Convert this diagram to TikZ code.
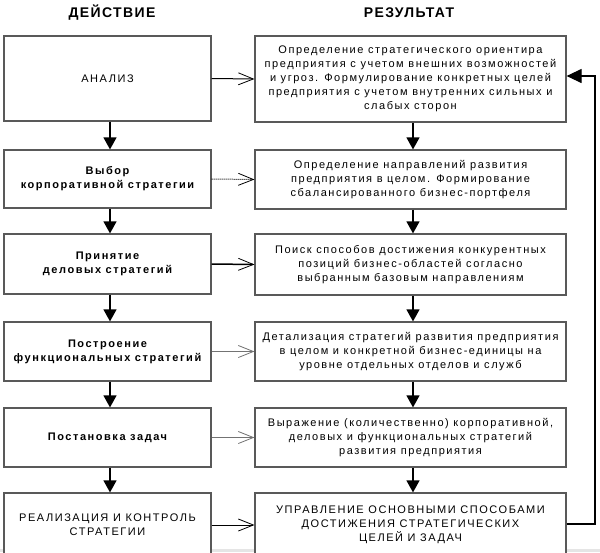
\documentclass[tikz,border=0pt]{standalone}
\usepackage{fontspec}
\setmainfont{Liberation Sans}[LetterSpace=14]
\newfontfamily\hdrfont{Liberation Sans}[LetterSpace=10]
\usetikzlibrary{arrows.meta,calc}
\definecolor{boxc}{gray}{0.35}
\definecolor{lgr}{gray}{0.45}
\begin{document}
\begin{tikzpicture}[x=1pt,y=-1pt,
  box/.style={draw=boxc, line width=1.2pt, align=center, inner sep=0pt, fill=white,
    font=\fontsize{11}{14}\selectfont},
  lbox/.style={box, minimum width=207pt},
  rbox/.style={box, minimum width=311pt},
  bld/.style={font=\fontsize{11}{14}\bfseries\selectfont},
  hdr/.style={font=\hdrfont\fontsize{14}{16}\bfseries\selectfont},
  darr/.style={line width=1.2pt, -{Triangle[length=12pt,width=13pt]}},
  harr/.style={line width=1pt, -{Straight Barb[length=15pt,width=12pt,line width=0.8pt]}},
  farr/.style={line width=1.2pt, -{Triangle[length=15pt,width=14pt]}}]
\useasboundingbox (0,0) rectangle (600,552);
\clip (0,0) rectangle (600,552);
\fill[gray!20] (0,549) rectangle (600,552);

\node[hdr] (h1) at (112,13) {ДЕЙСТВИЕ};
\node[hdr] (h2) at (409,13) {РЕЗУЛЬТАТ};

% left column
\node[lbox, minimum height=85pt] (l1) at (107.5,78.5) {АНАЛИЗ};
\node[lbox, minimum height=58pt, bld] (l2) at (107.5,179) {Выбор\\корпоративной стратегии};
\node[lbox, minimum height=60pt, bld] (l3) at (107.5,264) {Принятие\\деловых стратегий};
\node[lbox, minimum height=59pt, bld] (l4) at (107.5,351.5) {Построение\\функциональных стратегий};
\node[lbox, minimum height=59pt, bld] (l5) at (107.5,437.5) {Постановка задач};
\node[lbox, minimum height=64pt] (l6) at (107.5,525) {РЕАЛИЗАЦИЯ И КОНТРОЛЬ\\СТРАТЕГИИ};

% right column
\node[rbox, minimum height=86pt] (r1) at (410.5,79) {Определение стратегического ориентира\\предприятия с учетом внешних возможностей\\и угроз. Формулирование конкретных целей\\предприятия с учетом внутренних сильных и\\слабых сторон};
\node[rbox, minimum height=59pt] (r2) at (410.5,179.5) {Определение направлений развития\\предприятия в целом. Формирование\\сбалансированного бизнес-портфеля};
\node[rbox, minimum height=61pt] (r3) at (410.5,264.5) {Поиск способов достижения конкурентных\\позиций бизнес-областей согласно\\выбранным базовым направлениям};
\node[rbox, minimum height=59pt] (r4) at (410.5,351.5) {Детализация стратегий развития предприятия\\в целом и конкретной бизнес-единицы на\\уровне отдельных отделов и служб};
\node[rbox, minimum height=59pt] (r5) at (410.5,437.5) {Выражение (количественно) корпоративной,\\деловых и функциональных стратегий\\развития предприятия};
\node[rbox, minimum height=64pt] (r6) at (410.5,525) {УПРАВЛЕНИЕ ОСНОВНЫМИ СПОСОБАМИ\\ДОСТИЖЕНИЯ СТРАТЕГИЧЕСКИХ\\ЦЕЛЕЙ И ЗАДАЧ};

% down arrows
\foreach \a/\b in {l1/l2,l2/l3,l3/l4,l4/l5,l5/l6,r1/r2,r2/r3,r3/r4,r4/r5,r5/r6}
  \draw[darr] ([xshift=2.5pt]\a.south) -- ([xshift=2.5pt]\b.north);

% horizontal arrows
\draw[harr] (l1.east) -- (r1.west);
\draw[harr, densely dotted] (l2.east) -- (r2.west);
\draw[harr, line width=1.5pt] (l3.east) -- (r3.west);
\draw[harr, draw=lgr] (l4.east) -- (r4.west);
\draw[harr, draw=lgr] (l5.east) -- (r5.west);
\draw[harr] (l6.east) -- (r6.west);

% feedback
\coordinate (fb1) at (595,524);
\coordinate (fb2) at (595,76);
\draw[farr] (r6.east |- fb1) -- (fb1) -- (fb2) -- (r1.east |- fb2);
\end{tikzpicture}
\end{document}
